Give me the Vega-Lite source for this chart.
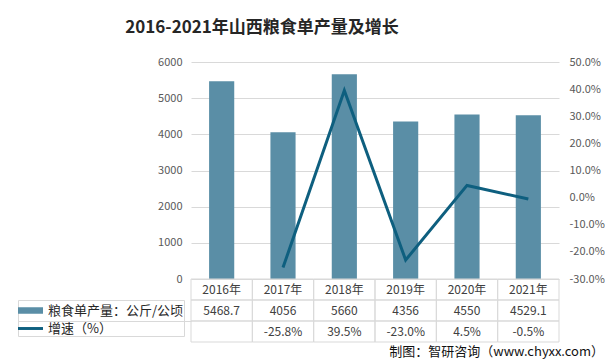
{
  "$schema": "https://vega.github.io/schema/vega-lite/v6.json",
  "background": "white",
  "padding": {"left": 17, "top": 19, "right": 0, "bottom": 4},
  "title": {"text": "2016-2021年山西粮食单产量及增长", "font": "Noto Sans CJK SC", "fontSize": 17, "fontWeight": "bold", "color": "#262626", "anchor": "middle", "frame": "group", "dx": -113, "offset": 19},
  "config": {
    "view": {"stroke": null},
    "font": "Noto Sans CJK SC",
    "locale": {"number": {"decimal": ".", "thousands": ",", "grouping": [3], "currency": ["$", ""], "minus": "-"}}
  },
  "data": {"values": [
    {"year": "2016年", "yield": 5468.7, "growth": null},
    {"year": "2017年", "yield": 4056, "growth": -0.258},
    {"year": "2018年", "yield": 5660, "growth": 0.395},
    {"year": "2019年", "yield": 4356, "growth": -0.23},
    {"year": "2020年", "yield": 4550, "growth": 0.045},
    {"year": "2021年", "yield": 4529.1, "growth": -0.005}
  ]},
  "bounds": "flush",
  "spacing": 0,
  "resolve": {"scale": {"x": "independent", "y": "independent"}},
  "vconcat": [
    {
      "width": 368,
      "height": 217,
      "encoding": {
        "x": {"field": "year", "type": "nominal", "sort": null, "axis": null, "scale": {"paddingInner": 0.59, "paddingOuter": 0.295}}
      },
      "layer": [
        {
          "mark": {"type": "bar"},
          "encoding": {
            "y": {"field": "yield", "type": "quantitative", "scale": {"domain": [0, 6000], "nice": false},
              "axis": {"orient": "left", "values": [0, 1000, 2000, 3000, 4000, 5000, 6000], "format": "d", "grid": true, "gridColor": "#d9d9d9", "domain": false, "ticks": false, "labelPadding": 9, "labelColor": "#595959", "labelFontSize": 11, "labelFont": "Noto Sans CJK SC", "title": null}},
            "color": {"datum": "粮食单产量：公斤/公顷", "type": "nominal",
              "scale": {"domain": ["粮食单产量：公斤/公顷", "增速（%）"], "range": ["#5a8ea6", "#0e5f7f"]},
              "legend": {"orient": "none", "legendX": -173, "legendY": 238, "title": null, "direction": "vertical",
                "symbolSize": 441, "symbolStrokeWidth": 0, "labelFontSize": 13, "labelFont": "Noto Sans CJK SC", "labelColor": "#262626",
                "labelOffset": 9, "rowPadding": 0, "padding": 0, "strokeColor": "#d9d9d9",
                "encode": {"symbols": {"update": {
                  "shape": {"signal": "datum.value === '增速（%）' ? 'M-1,-0.14H1.38V0.14H-1Z' : 'M-1,-0.31H1.38V0.31H-1Z'"},
                  "fill": {"scale": "color", "field": "value"},
                  "stroke": {"value": "transparent"},
                  "opacity": {"value": 1}
                }}}}
            }
          }
        },
        {
          "mark": {"type": "line", "strokeWidth": 3},
          "encoding": {
            "y": {"field": "growth", "type": "quantitative", "scale": {"domain": [-0.3, 0.5], "nice": false},
              "axis": {"orient": "right", "values": [-0.3, -0.2, -0.1, 0, 0.1, 0.2, 0.3, 0.4, 0.5], "format": ".1%", "grid": false, "domain": false, "ticks": false, "labelPadding": 10, "labelColor": "#595959", "labelFontSize": 11, "labelFont": "Noto Sans CJK SC", "title": null}},
            "color": {"datum": "增速（%）", "type": "nominal"}
          }
        }
      ],
      "resolve": {"scale": {"y": "independent"}}
    },
    {
      "width": 368,
      "height": 63,
      "title": {"text": "制图：智研咨询（www.chyxx.com）", "orient": "bottom", "anchor": "end", "frame": "group", "dx": 45, "offset": 3, "fontSize": 13, "fontWeight": "normal", "color": "#111111", "font": "Noto Sans CJK SC"},
      "encoding": {
        "x": {"field": "year", "type": "nominal", "sort": null, "axis": null, "scale": {"paddingInner": 0, "paddingOuter": 0}}
      },
      "layer": [
        {
          "transform": [{"fold": ["year", "yield", "growth"], "as": ["row", "val"]}],
          "mark": {"type": "rect", "fill": "white", "fillOpacity": 0, "stroke": "#d9d9d9", "strokeWidth": 1},
          "encoding": {
            "y": {"field": "row", "type": "nominal", "scale": {"domain": ["year", "yield", "growth"], "paddingInner": 0, "paddingOuter": 0},
              "axis": {"orient": "left", "labels": false, "domain": false, "values": ["yield"], "bandPosition": 1, "tickSize": -173, "offset": 173, "tickColor": "#d9d9d9", "title": null}}
          }
        },
        {
          "transform": [{"fold": ["year", "yield"], "as": ["row", "val"]}],
          "mark": {"type": "text", "fontSize": 12, "color": "#404040", "font": "Noto Sans CJK SC"},
          "encoding": {
            "y": {"field": "row", "type": "nominal"},
            "text": {"field": "val", "type": "nominal"}
          }
        },
        {
          "transform": [{"filter": "isValid(datum.growth)"}],
          "mark": {"type": "text", "fontSize": 12, "color": "#404040", "font": "Noto Sans CJK SC"},
          "encoding": {
            "y": {"datum": "growth", "type": "nominal"},
            "text": {"field": "growth", "type": "quantitative", "format": ".1%"}
          }
        }
      ]
    }
  ]
}
